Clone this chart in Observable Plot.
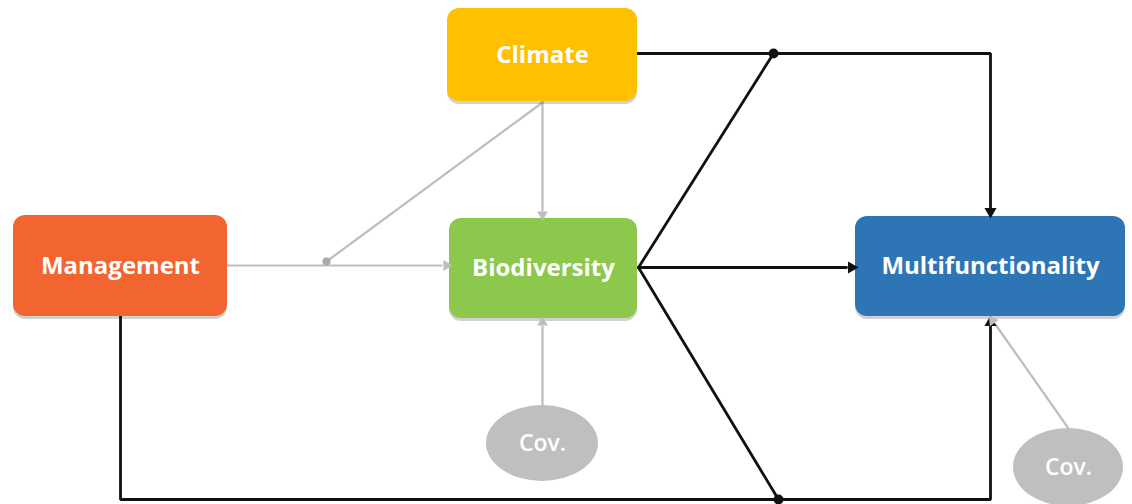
<!DOCTYPE html>
<html>
<head>
<meta charset="utf-8">
<script src="https://cdn.jsdelivr.net/npm/d3@7"></script>
<script src="https://cdn.jsdelivr.net/npm/@observablehq/plot@0.6"></script>
<style>
  html, body { margin: 0; padding: 0; background: #fff; }
</style>
</head>
<body>
<div id="chart"></div>
<script>
// Nodes (boxes)
const boxNames = ["Climate", "Management", "Biodiversity", "Multifunctionality"];
const boxColors = ["#FFC000", "#F26430", "#8CC84B", "#2E75B6"];
const boxX1 = [447, 13, 449, 855];
const boxX2 = [637, 227, 637, 1125];
const boxY1 = [8, 215, 218, 216];
const boxY2 = [101, 316, 318, 316];

// Covariate ellipses
const covLabels = ["Cov.", "Cov."];
const covCx = [542, 1068];
const covCy = [443, 467];
const covRx = [56, 55];
const covRy = [38, 39];

// Black paths (polylines)
const blackPaths = [
  {id: "clim-multi", pts: [[637, 53], [990, 53], [990, 208]]},
  {id: "bio-dot-top", pts: [[638, 267], [773, 53]]},
  {id: "bio-multi", pts: [[638, 267], [846, 267]]},
  {id: "bio-dot-bottom", pts: [[638, 267], [778, 499]]},
  {id: "mgmt-multi", pts: [[120, 316], [120, 499], [990, 499], [990, 325]]}
];
// Grey paths
const greyPaths = [
  {id: "mgmt-bio", pts: [[227, 265], [441, 265]]},
  {id: "clim-mod", pts: [[542, 102], [326, 261]]},
  {id: "clim-bio", pts: [[542, 102], [542, 210]]},
  {id: "cov-bio", pts: [[542, 405], [542, 326]]},
  {id: "cov-multi", pts: [[1068, 428], [995, 324]]}
];
// Arrow heads
const headX = [990, 851, 990, 446, 542, 542, 992];
const headY = [211, 267, 322, 265, 214, 322, 320];
const headRot = [180, 90, 0, 90, 180, 0, -35];
const headGroup = ["black", "black", "black", "grey", "grey", "grey", "grey"];
// Junction dots
const dotX = [773, 778, 326];
const dotY = [53, 499, 261];
const dotGroup = ["black", "black", "grey"];

const boxes = boxNames.map((name, i) => ({name, color: boxColors[i], x1: boxX1[i], x2: boxX2[i], y1: boxY1[i], y2: boxY2[i]}));
const covs = covLabels.map((label, i) => ({label, cx: covCx[i], cy: covCy[i], rx: covRx[i], ry: covRy[i]}));
const flatten = paths => paths.flatMap(p => p.pts.map(([x, y]) => ({id: p.id, x, y})));
const heads = headX.map((x, i) => ({x, y: headY[i], rot: headRot[i], group: headGroup[i]}));
const dots = dotX.map((x, i) => ({x, y: dotY[i], group: dotGroup[i]}));

const BLACK = "#111";
const GREY = "#BDBDBD";
const FONT = "Open Sans, sans-serif";

const ellipseMark = (index, scales) => {
  const g = d3.create("svg:g");
  for (const c of covs) {
    const cx = scales.x(c.cx), cy = scales.y(c.cy);
    const rx = Math.abs(scales.x(c.cx + c.rx) - cx), ry = Math.abs(scales.y(c.cy + c.ry) - cy);
    g.append("ellipse").attr("cx", cx).attr("cy", cy).attr("rx", rx).attr("ry", ry).attr("fill", "#BFBFBF");
  }
  return g.node();
};

const chart = Plot.plot({
  width: 1132,
  height: 504,
  margin: 0,
  x: {domain: [0, 1132], range: [0, 1132], axis: null},
  y: {domain: [0, 504], range: [0, 504], axis: null},
  style: {background: "#fff"},
  marks: [
    Plot.line(flatten(greyPaths), {x: "x", y: "y", z: "id", stroke: GREY, strokeWidth: 2.2}),
    Plot.line(flatten(blackPaths), {x: "x", y: "y", z: "id", stroke: BLACK, strokeWidth: 2.8, strokeLinejoin: "miter"}),
    Plot.rect(boxes, {x1: "x1", x2: "x2", y1: d => d.y1 + 3, y2: d => d.y2 + 3, rx: 12, fill: "#000", fillOpacity: 0.18}),
    Plot.rect(boxes, {x1: "x1", x2: "x2", y1: "y1", y2: "y2", rx: 12, fill: "color"}),
    Plot.text(boxes, {x: d => (d.x1 + d.x2) / 2, y: d => (d.y1 + d.y2) / 2, text: "name", fill: "#fff", fontSize: 24, fontWeight: "bold", fontFamily: FONT}),
    ellipseMark,
    Plot.text(covs, {x: "cx", y: "cy", text: "label", fill: "#fff", fontSize: 23, fontWeight: "600", fontFamily: FONT}),
    Plot.dot(heads.filter(d => d.group === "black"), {x: "x", y: "y", symbol: "triangle", r: 4.5, rotate: "rot", fill: BLACK, stroke: "none"}),
    Plot.dot(heads.filter(d => d.group === "grey"), {x: "x", y: "y", symbol: "triangle", r: 4, rotate: "rot", fill: GREY, stroke: "none"}),
    Plot.dot(dots.filter(d => d.group === "black"), {x: "x", y: "y", r: 5, fill: BLACK, stroke: "none"}),
    Plot.dot(dots.filter(d => d.group === "grey"), {x: "x", y: "y", r: 4, fill: "#AAAAAA", stroke: "none"})
  ]
});
document.getElementById("chart").appendChild(chart);
</script>
</body>
</html>
